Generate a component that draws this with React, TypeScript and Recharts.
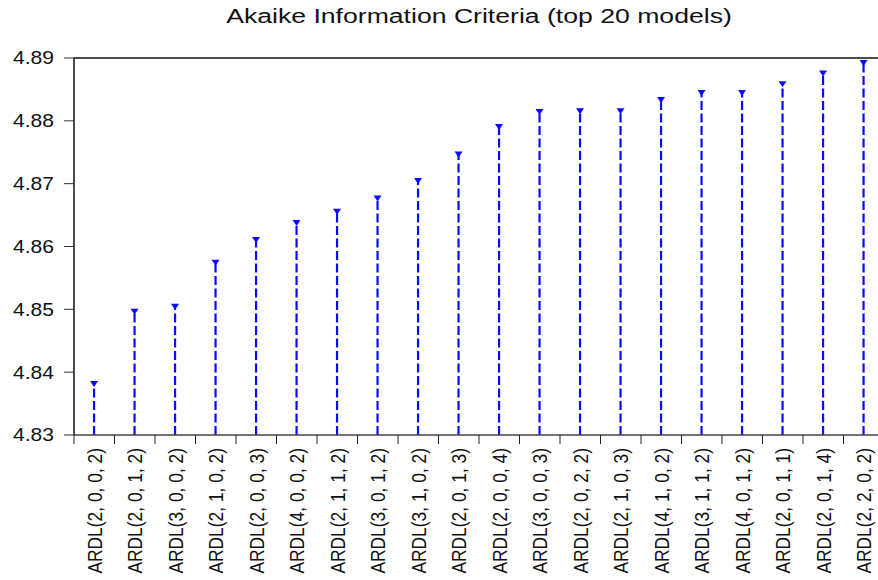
import React from "react";
import { ComposedChart, Bar, XAxis, YAxis, ReferenceLine } from "recharts";

const models = [
  "ARDL(2, 0, 0, 2)",
  "ARDL(2, 0, 1, 2)",
  "ARDL(3, 0, 0, 2)",
  "ARDL(2, 1, 0, 2)",
  "ARDL(2, 0, 0, 3)",
  "ARDL(4, 0, 0, 2)",
  "ARDL(2, 1, 1, 2)",
  "ARDL(3, 0, 1, 2)",
  "ARDL(3, 1, 0, 2)",
  "ARDL(2, 0, 1, 3)",
  "ARDL(2, 0, 0, 4)",
  "ARDL(3, 0, 0, 3)",
  "ARDL(2, 0, 2, 2)",
  "ARDL(2, 1, 0, 3)",
  "ARDL(4, 1, 0, 2)",
  "ARDL(3, 1, 1, 2)",
  "ARDL(4, 0, 1, 2)",
  "ARDL(2, 0, 1, 1)",
  "ARDL(2, 0, 1, 4)",
  "ARDL(2, 2, 0, 2)",
];

const aic = [
  4.8386, 4.8501, 4.8509, 4.8579, 4.8615, 4.8642, 4.8660, 4.8681, 4.8709,
  4.8751, 4.8795, 4.8819, 4.8820, 4.8820, 4.8838, 4.8849, 4.8849, 4.8863,
  4.8880, 4.8897,
];

const yTicks = [4.83, 4.84, 4.85, 4.86, 4.87, 4.88, 4.89];

const data = models.map((m, i) => ({ model: m, aic: aic[i] }));

const FONT = "'Liberation Sans', Arial, sans-serif";
const BLUE = "#0a0aff";

const Stem = (props: any) => {
  const { x, y, width, height } = props;
  const cx = x + width / 2;
  return (
    <g>
      <line
        x1={cx}
        x2={cx}
        y1={y + height}
        y2={y + 3}
        stroke={BLUE}
        strokeWidth={2.2}
        strokeDasharray="9 3.5"
      />
      <path
        d={`M${cx - 4},${y} L${cx + 4},${y} L${cx},${y + 6} Z`}
        fill={BLUE}
      />
    </g>
  );
};

const XTick = (props: any) => {
  const { x, y, payload } = props;
  const off = payload && payload.offset ? payload.offset : 20.25;
  return (
    <g>
      <line x1={x - off} x2={x - off} y1={y - 8} y2={y + 1} stroke="#222" strokeWidth={1} />
      <g transform={`translate(${x},${y + 5}) rotate(-90) scale(1,1.2)`}>
        <text
          x={0}
          y={0}
          textAnchor="end"
          dy="0.36em"
          fontSize={17.4}
          fontFamily={FONT}
          fill="#111"
        >
          {payload.value}
        </text>
      </g>
    </g>
  );
};

const YTick = (props: any) => {
  const { x, y, payload } = props;
  return (
    <g transform={`translate(${x},${y}) scale(1.17,1)`}>
      <text
        x={0}
        y={0}
        textAnchor="end"
        dy="0.36em"
        fontSize={18}
        fontFamily={FONT}
        fill="#111"
      >
        {Number(payload.value).toFixed(2)}
      </text>
    </g>
  );
};

export default function App() {
  return (
    <div
      style={{
        position: "absolute",
        left: 0,
        top: 0,
        width: 878,
        height: 580,
        overflow: "hidden",
        background: "#fff",
      }}
    >
      <div
        style={{
          position: "absolute",
          top: 5,
          left: 74,
          width: 810,
          textAlign: "center",
          fontFamily: FONT,
          fontSize: 20,
          color: "#111",
          transform: "scaleX(1.33)",
          whiteSpace: "nowrap",
        }}
      >
        Akaike Information Criteria (top 20 models)
      </div>
      <ComposedChart
        width={890}
        height={580}
        data={data}
        margin={{ top: 58, right: 6, left: 0, bottom: 0 }}
      >
        <XAxis
          dataKey="model"
          interval={0}
          height={145}
          tickLine={false}
          axisLine={{ stroke: "#444", strokeWidth: 1.5 }}
          tick={<XTick />}
        />
        <YAxis
          width={74}
          domain={[4.83, 4.89]}
          ticks={yTicks}
          allowDataOverflow
          axisLine={{ stroke: "#111", strokeWidth: 1.5 }}
          tickLine={{ stroke: "#333" }}
          tickSize={10}
          tickMargin={10}
          tick={<YTick />}
        />
        <ReferenceLine y={4.89} stroke="#111" strokeWidth={1.5} />
        <Bar dataKey="aic" isAnimationActive={false} shape={<Stem />} />
      </ComposedChart>
    </div>
  );
}
